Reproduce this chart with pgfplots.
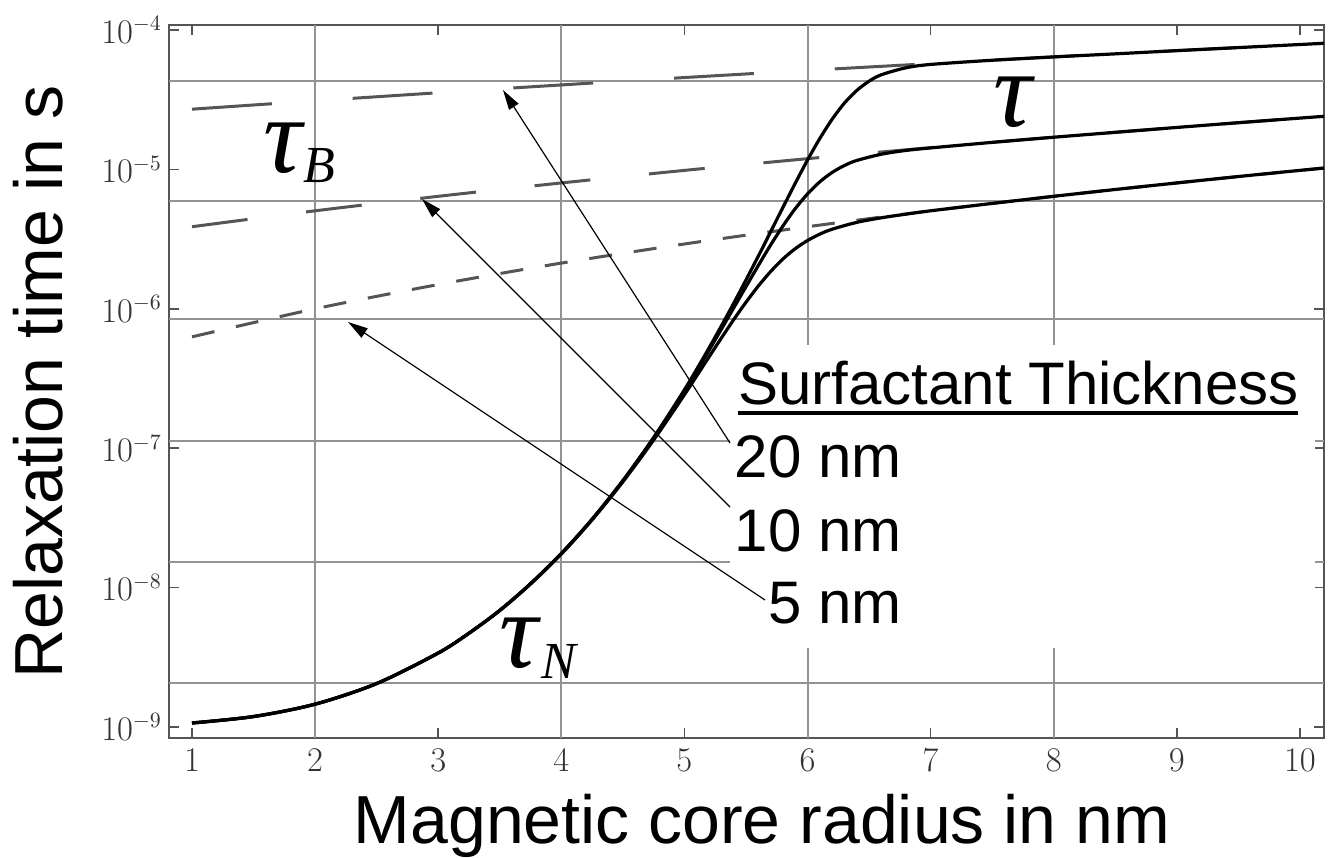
\documentclass[border=0pt]{standalone}
\usepackage{pgfplots}
\pgfplotsset{compat=1.18}
\usepackage{fontspec}
\setmainfont{Liberation Sans}
\newfontfamily\seriffont{Liberation Serif}
\usetikzlibrary{arrows.meta}

\definecolor{gridgray}{HTML}{939393}
\definecolor{framegray}{HTML}{555555}
\definecolor{dashgray}{HTML}{555555}

% tau (20 nm surfactant)
\pgfplotstableread{
x y
1 1.069e-9
1.5 1.189e-9
2 1.459e-9
2.5 2.051e-9
3 3.396e-9
3.25 4.710e-9
3.5 6.871e-9
3.75 1.067e-8
4 1.758e-8
4.25 3.097e-8
4.5 5.861e-8
4.75 1.194e-7
5 2.624e-7
5.2 5.236e-7
5.4 1.094e-6
5.6 2.383e-6
5.7 3.564e-6
5.8 5.333e-6
5.9 7.943e-6
6.0 1.167e-5
6.1 1.667e-5
6.2 2.291e-5
6.3 2.992e-5
6.4 3.681e-5
6.5 4.295e-5
6.6 4.775e-5
6.8 5.358e-5
7.0 5.662e-5
7.5 6.068e-5
8 6.413e-5
8.5 6.745e-5
9 7.112e-5
9.5 7.481e-5
10 7.870e-5
10.2 8.035e-5
}\tauTwenty

% tau (10 nm surfactant)
\pgfplotstableread{
x y
1 1.069e-9
1.5 1.189e-9
2 1.459e-9
2.5 2.051e-9
3 3.396e-9
3.25 4.710e-9
3.5 6.871e-9
3.75 1.067e-8
4 1.754e-8
4.25 3.090e-8
4.5 5.834e-8
4.75 1.180e-7
5 2.571e-7
5.2 5.035e-7
5.4 1.014e-6
5.6 2.042e-6
5.7 2.864e-6
5.8 3.926e-6
5.9 5.224e-6
6.0 6.668e-6
6.1 8.147e-6
6.2 9.507e-6
6.3 1.067e-5
6.4 1.159e-5
6.6 1.285e-5
6.8 1.368e-5
7.0 1.426e-5
7.5 1.563e-5
8 1.702e-5
8.5 1.845e-5
9 2.000e-5
9.5 2.163e-5
10 2.334e-5
10.2 2.405e-5
}\tauTen

% tau (5 nm surfactant)
\pgfplotstableread{
x y
1 1.069e-9
1.5 1.189e-9
2 1.459e-9
2.5 2.051e-9
3 3.396e-9
3.25 4.710e-9
3.5 6.839e-9
3.75 1.062e-8
4 1.742e-8
4.25 3.062e-8
4.5 5.741e-8
4.75 1.145e-7
5 2.421e-7
5.2 4.519e-7
5.3 6.166e-7
5.4 8.356e-7
5.5 1.114e-6
5.6 1.456e-6
5.7 1.849e-6
5.8 2.276e-6
5.9 2.698e-6
6.0 3.090e-6
6.1 3.435e-6
6.2 3.724e-6
6.4 4.169e-6
6.6 4.498e-6
6.8 4.775e-6
7.0 5.047e-6
7.5 5.701e-6
8 6.413e-6
8.5 7.177e-6
9 7.998e-6
9.5 8.892e-6
10 9.840e-6
10.2 1.023e-5
}\tauFive

% Brownian relaxation times (dashed)
\pgfplotstableread{
x y
1 2.704e-5
2 3.105e-5
3 3.548e-5
4 4.036e-5
5 4.560e-5
6 5.129e-5
7 5.741e-5
8 6.413e-5
9 7.112e-5
10 7.870e-5
10.2 8.035e-5
}\tauBTwenty

\pgfplotstableread{
x y
1 3.881e-6
2 5.047e-6
3 6.413e-6
4 7.998e-6
5 9.840e-6
6 1.194e-5
7 1.433e-5
8 1.702e-5
9 2.000e-5
10 2.334e-5
10.2 2.405e-5
}\tauBTen

\pgfplotstableread{
x y
1 6.295e-7
2 1.000e-6
3 1.493e-6
4 2.128e-6
5 2.917e-6
6 3.881e-6
7 5.047e-6
8 6.413e-6
9 7.998e-6
10 9.840e-6
10.2 1.023e-5
}\tauBFive

\newcommand\taufont{\seriffont\itshape\fontsize{54}{54}\selectfont}
\newcommand\subfont{\seriffont\itshape\fontsize{26}{26}\selectfont}

\begin{document}
\begin{tikzpicture}
\begin{axis}[
  at={(0pt,0pt)}, anchor=south west,
  scale only axis, width=577.5pt, height=356.5pt,
  xmin=0.813, xmax=10.196,
  ymode=log, ymin=8.34e-10, ymax=1.086e-4,
  xtick={1,2,...,10},
  ytick={1e-9,1e-8,1e-7,1e-6,1e-5,1e-4},
  yminorticks=false,
  tick align=inside,
  major tick length=5pt,
  tick style={framegray, line width=0.8pt},
  axis line style={framegray, line width=1pt},
  xtick pos=both, ytick pos=both,
  xticklabel pos=left, yticklabel pos=left,
  ticklabel style={font=\fontsize{16}{16}\selectfont, text=black!80},
  xticklabel style={yshift=-2pt},
  extra x ticks={2,4,6,8},
  extra x tick style={grid=major, major tick length=0pt, xticklabel={}},
  extra y ticks={4.31e-5,5.93e-6,8.45e-7,1.127e-7,1.528e-8,2.07e-9},
  extra y tick style={grid=major, major tick length=0pt, yticklabel={}},
  major grid style={gridgray, line width=1pt},
]
\addplot[dashgray, line width=1.5pt, dash pattern=on 40pt off 40.5pt, smooth] table[x=x,y=y]{\tauBTwenty};
\addplot[dashgray, line width=1.5pt, dash pattern=on 28pt off 29.5pt, smooth] table[x=x,y=y]{\tauBTen};
\addplot[dashgray, line width=1.5pt, dash pattern=on 11.5pt off 11pt, smooth] table[x=x,y=y]{\tauBFive};
\addplot[black, line width=1.6pt, smooth] table[x=x,y=y]{\tauFive};
\addplot[black, line width=1.6pt, smooth] table[x=x,y=y]{\tauTen};
\addplot[black, line width=1.6pt, smooth] table[x=x,y=y]{\tauTwenty};
\end{axis}

% white panel behind the annotation text
\fill[white] (280.5pt,45pt) rectangle (573pt,196.5pt);

% arrows
\draw[black, line width=0.6pt, -{Triangle[length=10pt,width=5.5pt]}] (280.5pt,147.5pt) -- (167pt,324pt);
\draw[black, line width=0.6pt, -{Triangle[length=10pt,width=5.5pt]}] (280.5pt,115.5pt) -- (126.5pt,269.5pt);
\draw[black, line width=0.6pt, -{Triangle[length=10pt,width=5.5pt]}] (298pt,69pt) -- (89.5pt,208pt);

% annotation text
\node[anchor=base west, inner sep=0pt, font=\fontsize{30}{30}\selectfont] at (284.5pt,166.5pt) {Surfactant Thickness};
\draw[black, line width=2pt] (284.5pt,162.5pt) -- (564.5pt,162.5pt);
\node[anchor=base east, inner sep=0pt, font=\fontsize{30}{30}\selectfont] at (366.5pt,130pt) {20 nm};
\node[anchor=base east, inner sep=0pt, font=\fontsize{30}{30}\selectfont] at (366.5pt,93.5pt) {10 nm};
\node[anchor=base east, inner sep=0pt, font=\fontsize{30}{30}\selectfont] at (366.5pt,57.5pt) {5 nm};

% tau labels
\node[anchor=base west, inner sep=0pt] at (47pt,282.5pt)
  {\makebox[0pt][l]{\taufont τ}\hspace{20pt}\raisebox{-5pt}{\subfont B}};
\node[anchor=base west, inner sep=0pt] at (165pt,35.5pt)
  {\makebox[0pt][l]{\taufont τ}\hspace{21pt}\raisebox{-5.5pt}{\subfont N}};
\node[anchor=base west, inner sep=0pt, font=\taufont] at (412pt,305.5pt) {τ};

% axis labels
\node[anchor=base, inner sep=0pt, font=\fontsize{34}{34}\selectfont] at (296.5pt,-52.5pt) {Magnetic core radius in nm};
\node[anchor=base, rotate=90, inner sep=0pt, font=\fontsize{34}{34}\selectfont] at (-53pt,178pt) {Relaxation time in s};

\pgfresetboundingbox
\path[use as bounding box] (-84.5pt,-59.5pt) rectangle (584pt,369pt);
\end{tikzpicture}
\end{document}
